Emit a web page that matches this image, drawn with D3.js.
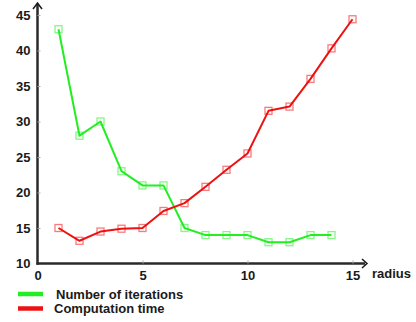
<!DOCTYPE html>
<html><head><meta charset="utf-8">
<script src="https://cdn.jsdelivr.net/npm/d3@7"></script>
<style>body{margin:0;background:#fff}svg{display:block}text{font-family:Arial,"Liberation Sans",sans-serif;font-weight:bold;fill:#1a1a1a}</style>
</head><body><svg id="c" width="416" height="322"></svg>
<script>
const radiusIter = [1,2,3,4,5,6,7,8,9,10,11,12,13,14];
const iterations = [43,28,30,23,21,21,15,14,14,14,13,13,14,14];
const radiusTime = [1,2,3,4,5,6,7,8,9,10,11,12,13,14,15];
const compTime = [15,13.2,14.5,14.9,15,17.4,18.5,20.8,23.2,25.5,31.5,32.1,36,40.3,44.4];
const xTicks = [0,5,10,15];
const yTicks = [10,15,20,25,30,35,40,45];
const seriesNames = ["Number of iterations","Computation time"];
const colors = ["#22ee22","#ee1111"];

const svg = d3.select("#c");
const x = d3.scaleLinear().domain([0,15]).range([37.5,352.5]);
const y = d3.scaleLinear().domain([10,45]).range([263.5,15]);

// axes
const xa = svg.append("g").attr("transform","translate(0,263.5)")
  .call(d3.axisBottom(x).tickValues(xTicks).tickSize(3).tickPadding(4).tickSizeOuter(0));
xa.select(".domain").attr("d","M36.5,0H365").attr("stroke","#2a2a2a").attr("stroke-width",2.5);
xa.selectAll(".tick line").attr("stroke","#aaa").attr("y2",-3);
xa.selectAll(".tick text").attr("font-size",13).attr("dy","0.71em");
xa.selectAll(".tick").filter(d=>d===0).select("line").remove();

const ya = svg.append("g").attr("transform","translate(37.5,0)")
  .call(d3.axisLeft(y).tickValues(yTicks).tickSize(3).tickPadding(4).tickSizeOuter(0));
ya.select(".domain").attr("d","M0,264.7V4").attr("stroke","#2a2a2a").attr("stroke-width",2.5);
ya.selectAll(".tick line").attr("stroke","#aaa").attr("x2",3);
ya.selectAll(".tick text").attr("font-size",13);
ya.selectAll(".tick").filter(d=>d===10).select("line").remove();

// arrowheads
svg.append("path").attr("d","M33,9L37.5,3L42,9").attr("fill","none").attr("stroke","#1a1a1a").attr("stroke-width",1.5);
svg.append("path").attr("d","M362,259L367,263.5L362,268").attr("fill","none").attr("stroke","#1a1a1a").attr("stroke-width",1.5);
svg.append("text").attr("x",372).attr("y",278).attr("font-size",13).text("radius");

const line = d3.line().x(d=>x(d[0])).y(d=>y(d[1]));
const series = [
  {xs: radiusIter, ys: iterations, c: colors[0]},
  {xs: radiusTime, ys: compTime, c: colors[1]}
];
series.forEach(s=>{
  const pts = s.xs.map((v,i)=>[v,s.ys[i]]);
  svg.append("path").datum(pts).attr("d",line).attr("fill","none").attr("stroke",s.c).attr("stroke-width",2).attr("stroke-linejoin","round");
  svg.append("g").selectAll("rect").data(pts).join("rect")
    .attr("x",d=>x(d[0])-3.5).attr("y",d=>y(d[1])-3.5).attr("width",7).attr("height",7)
    .attr("fill","none").attr("stroke",s.c).attr("stroke-opacity",0.55).attr("stroke-width",1.3);
});

// legend
seriesNames.forEach((n,i)=>{
  const yy = 294 + i*14.5;
  svg.append("line").attr("x1",18).attr("x2",43).attr("y1",yy).attr("y2",yy).attr("stroke",colors[i]).attr("stroke-width",4.5);
  svg.append("text").attr("x",i===0?56:54).attr("y",yy+4.5).attr("font-size",13).text(n);
});
</script></body></html>
